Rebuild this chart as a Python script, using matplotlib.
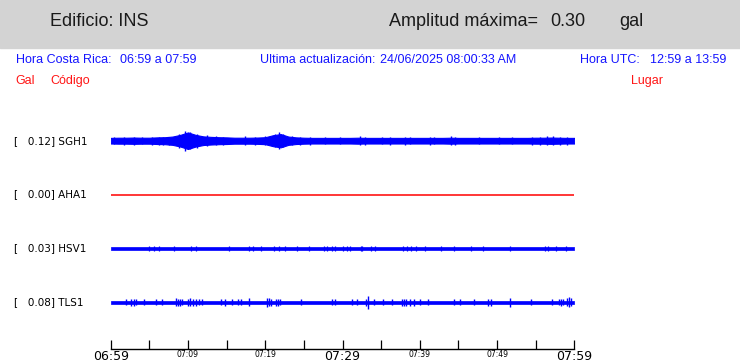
import numpy as np
import matplotlib.pyplot as plt
from matplotlib.patches import Rectangle
from matplotlib import transforms

W, H = 740, 363

# time axis: minutes after 06:59 (hora Costa Rica)
minutes = np.arange(0, 61)
tick_minutes = np.arange(0, 61, 5)
tick_labels = ["06:59", "", "07:09", "", "07:19", "", "07:29", "", "07:39", "", "07:49", "", "07:59"]
big_ticks = ["06:59", "07:29", "07:59"]

amplitud_maxima = 0.30
codes = ["SGH1", "AHA1", "HSV1", "TLS1"]
peaks = [0.12, 0.00, 0.03, 0.08]

# SGH1: envelope (gal) every minute + isolated spikes
sgh1_env = [0.034, 0.036, 0.036, 0.038, 0.036, 0.036, 0.040, 0.042, 0.050, 0.070,
            0.100, 0.070, 0.052, 0.046, 0.042, 0.040, 0.036, 0.036, 0.036, 0.038,
            0.042, 0.066, 0.080, 0.050, 0.040, 0.036, 0.034, 0.034, 0.034, 0.034,
            0.034, 0.034, 0.036, 0.034, 0.034, 0.034, 0.034, 0.034, 0.034, 0.034,
            0.034, 0.034, 0.034, 0.034, 0.036, 0.034, 0.034, 0.034, 0.034, 0.034,
            0.034, 0.034, 0.034, 0.034, 0.034, 0.036, 0.036, 0.038, 0.036, 0.034,
            0.034]
sgh1_spike_t = [0.4, 1.7, 3.0, 4.1, 5.4, 6.2, 6.8, 7.5, 8.8, 9.6, 10.3, 11.2, 12.4, 13.6,
                14.5, 17.4, 18.7, 20.0, 21.3, 21.8, 22.3, 23.5, 24.5, 25.8, 27.7, 29.7,
                32.3, 32.9, 35.1, 36.1, 38.1, 38.7, 41.3, 41.9, 44.1, 44.5, 47.7, 50.3,
                51.9, 54.5, 55.5, 56.5, 57.2, 58.1, 59.1]
sgh1_spike_a = [0.042, 0.048, 0.046, 0.045, 0.048, 0.048, 0.050, 0.048, 0.085, 0.120,
                0.100, 0.085, 0.066, 0.054, 0.050, 0.052, 0.048, 0.054, 0.078, 0.100,
                0.078, 0.054, 0.048, 0.046, 0.043, 0.043, 0.054, 0.048, 0.043, 0.046,
                0.046, 0.043, 0.046, 0.043, 0.052, 0.048, 0.043, 0.045, 0.043, 0.048,
                0.046, 0.052, 0.054, 0.046, 0.046]

# AHA1: flat, no signal
aha1_values = [0.0] * 61

# HSV1: steady noise band + spikes
hsv1_noise = 0.021
hsv1_spike_t = [4.94, 5.59, 6.23, 8.17, 10.45, 11.06, 15.35, 17.94, 18.36, 19.45, 21.07,
                21.81, 22.62, 24.09, 25.68, 27.61, 28.04, 28.65, 29.03, 30.10, 30.62,
                30.97, 32.35, 32.55, 33.64, 34.19, 37.85, 38.41, 38.93, 39.45, 40.65,
                42.80, 44.43, 46.67, 48.17, 51.70, 56.22, 56.55, 57.63, 58.93]
hsv1_spike_a = [0.032] * len(hsv1_spike_t)

# TLS1: steady noise band + spikes
tls1_noise = 0.021
tls1_spike_t = [2.03, 2.58, 2.97, 3.32, 4.30, 5.81, 6.67, 8.48, 8.77, 9.03, 9.29, 9.94,
                10.32, 10.71, 11.10, 11.39, 11.83, 14.32, 14.75, 15.70, 16.48, 16.90,
                17.85, 20.22, 20.45, 20.71, 21.38, 21.68, 21.94, 24.65, 28.60, 29.03,
                31.19, 31.83, 33.03, 33.33, 34.10, 35.26, 36.35, 37.64, 37.94, 38.28,
                38.80, 39.23, 40.00, 41.07, 44.43, 45.16, 47.00, 48.81, 49.25, 51.70,
                54.41, 57.07, 57.97, 58.23, 58.48, 59.06, 59.29, 59.57]
tls1_spike_a = [0.036, 0.042, 0.042, 0.036, 0.036, 0.036, 0.036, 0.048, 0.042, 0.042,
                0.036, 0.042, 0.048, 0.042, 0.042, 0.036, 0.036, 0.036, 0.042, 0.036,
                0.036, 0.036, 0.048, 0.054, 0.048, 0.042, 0.042, 0.042, 0.036, 0.034,
                0.036, 0.036, 0.034, 0.034, 0.042, 0.080, 0.036, 0.036, 0.036, 0.039,
                0.039, 0.039, 0.039, 0.039, 0.036, 0.036, 0.034, 0.034, 0.034, 0.039,
                0.039, 0.054, 0.036, 0.036, 0.036, 0.039, 0.036, 0.048, 0.060, 0.048]

# layout (pixels)
px_per_gal = 83.0
first_y, slot_px = 140.7, 53.87
ax_top, ax_bot = 87.0, 349.0
x0_px, x1_px = 110.7, 574.3

fig = plt.figure(figsize=(W / 100, H / 100), dpi=100)
fig.patches.append(Rectangle((0, 1 - 48 / H), 1, 48 / H, transform=fig.transFigure,
                             color="#d3d3d3", zorder=0))

def fx(px):
    return px / W

def fy(py):
    return 1 - py / H

hdr = dict(family="Liberation Sans", fontsize=13, color="#1a1a1a", va="center")
fig.text(fx(50.5), fy(22), "Edificio: INS", **hdr)
fig.text(fx(389), fy(22), "Amplitud máxima=", **hdr)
fig.text(fx(550), fy(22), f"{amplitud_maxima:.2f}", **hdr)
fig.text(fx(619), fy(22), "gal", **hdr)

blue = dict(family="Liberation Sans", fontsize=9, color="#1515ff", va="center")
fig.text(fx(15.6), fy(60), "Hora Costa Rica:", **blue)
fig.text(fx(120), fy(60), "06:59 a 07:59", **blue)
fig.text(fx(260), fy(60), "Ultima actualización:", **blue)
fig.text(fx(380), fy(60), "24/06/2025 08:00:33 AM", **blue)
fig.text(fx(580), fy(60), "Hora UTC:", **blue)
fig.text(fx(650), fy(60), "12:59 a 13:59", **blue)

red = dict(family="Liberation Sans", fontsize=9, color="#ff1515", va="center")
fig.text(fx(15.6), fy(81), "Gal", **red)
fig.text(fx(50.5), fy(81), "Código", **red)
fig.text(fx(631), fy(81), "Lugar", **red)

ax = fig.add_axes([fx(x0_px), fy(ax_bot), (x1_px - x0_px) / W, (ax_bot - ax_top) / H])
ax.set_xlim(0, 60)
ax.set_ylim((ax_bot - first_y) / px_per_gal, -(first_y - ax_top) / px_per_gal)
slot = slot_px / px_per_gal
offsets = [i * slot for i in range(len(codes))]

# SGH1
o = offsets[0]
env = np.array(sgh1_env)
ax.fill_between(minutes, o - env, o + env, color="blue", lw=0.8)
ax.vlines(sgh1_spike_t, o - np.array(sgh1_spike_a), o + np.array(sgh1_spike_a), color="blue", lw=1.0)

# AHA1
ax.plot(minutes, offsets[1] + np.array(aha1_values), color="red", lw=1.1)

# HSV1
o = offsets[2]
ax.fill_between([0, 60], o - hsv1_noise, o + hsv1_noise, color="blue", lw=0.5)
ax.vlines(hsv1_spike_t, o - np.array(hsv1_spike_a), o + np.array(hsv1_spike_a), color="blue", lw=0.9)

# TLS1
o = offsets[3]
ax.fill_between([0, 60], o - tls1_noise, o + tls1_noise, color="blue", lw=0.5)
ax.vlines(tls1_spike_t, o - np.array(tls1_spike_a), o + np.array(tls1_spike_a), color="blue", lw=1.0)

lbl_tr = transforms.blended_transform_factory(fig.transFigure, ax.transData)
for code, pk, o in zip(codes, peaks, offsets):
    ax.text(fx(14), o, f"[{pk:7.2f}] {code}", transform=lbl_tr, family="DejaVu Sans",
            fontsize=7.5, va="center", ha="left")

for side in ["top", "left", "right"]:
    ax.spines[side].set_visible(False)
ax.spines["bottom"].set_linewidth(1.0)
ax.set_yticks([])
ax.set_xticks(tick_minutes)
ax.set_xticklabels(tick_labels)
ax.tick_params(axis="x", direction="in", length=6.5, width=0.9, pad=1)
for t in ax.get_xticklabels():
    t.set_family("DejaVu Sans")
    t.set_fontsize(9 if t.get_text() in big_ticks else 5.5)
    t.set_verticalalignment("top")

fig.savefig("out.png", dpi=100)
